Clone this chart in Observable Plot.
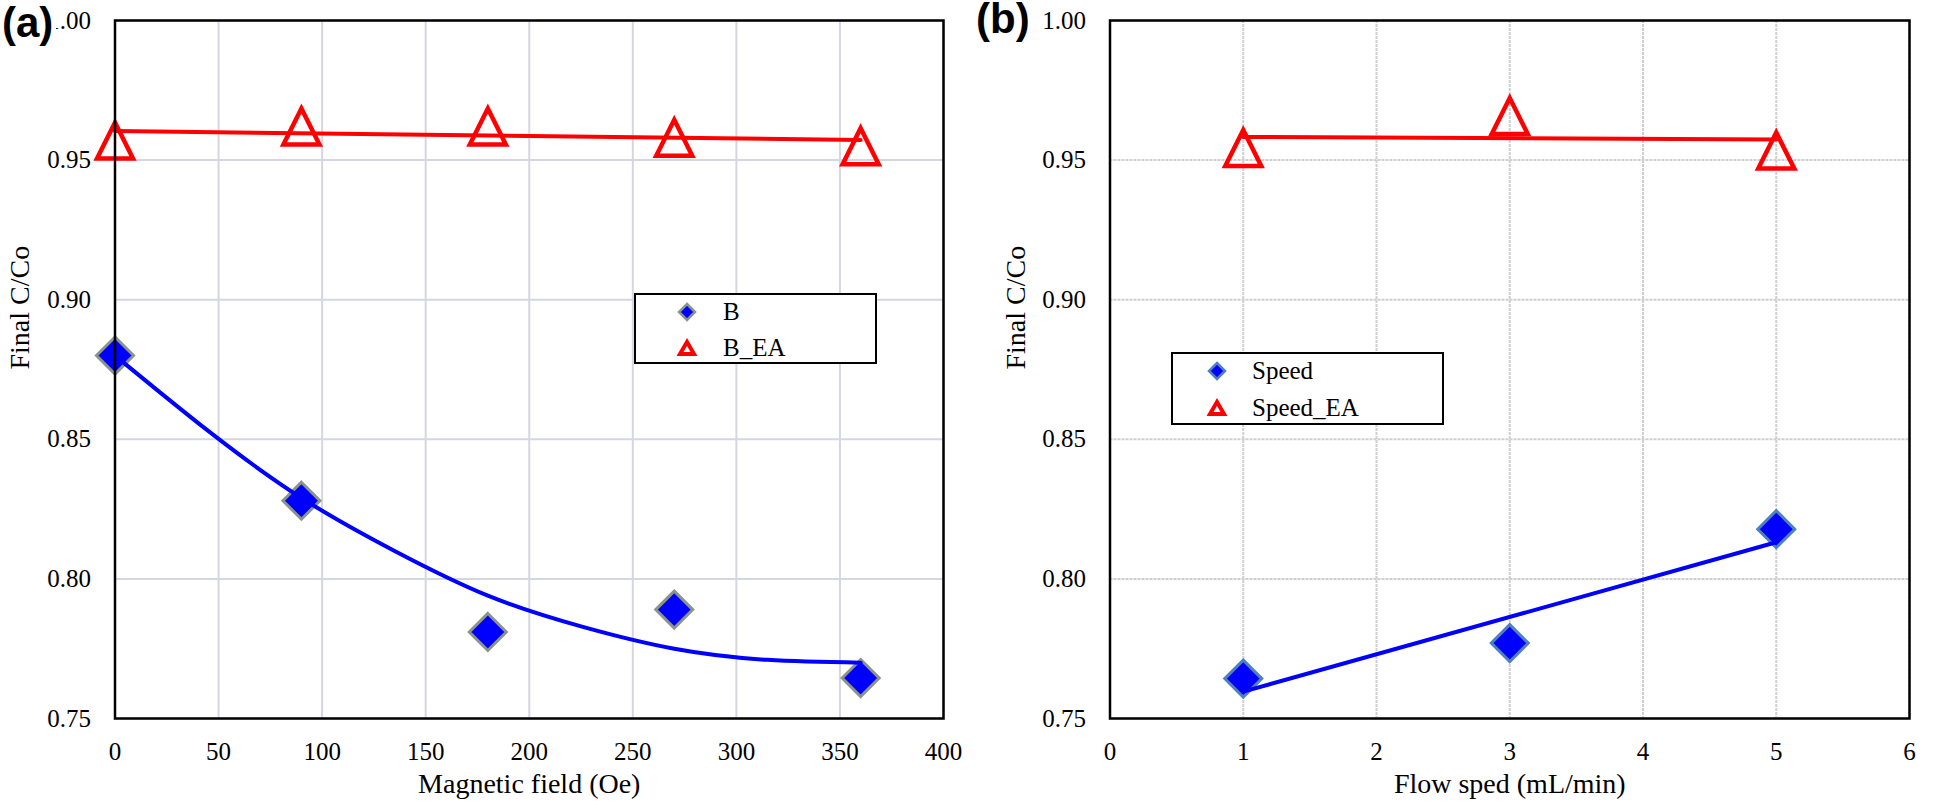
<!DOCTYPE html>
<html><head><meta charset="utf-8">
<script src="https://cdn.jsdelivr.net/npm/d3@7"></script>
<script src="https://cdn.jsdelivr.net/npm/@observablehq/plot@0.6"></script>
<style>
body{margin:0;background:#fff;}
#wrap{position:relative;width:1946px;height:809px;overflow:hidden;background:#fff;}
#pa{position:absolute;left:0;top:0;}
#pb{position:absolute;left:975px;top:0;}
#wrap svg, #wrap svg text{font-family:"Liberation Serif","Times New Roman",serif !important;}
.tag{position:absolute;font-family:"Liberation Sans",Arial,sans-serif;font-weight:bold;font-size:42px;line-height:46px;background:#fff;padding-right:3px;}
</style></head><body>
<div id="wrap"><div id="pa"></div><div id="pb"></div>
<div class="tag" style="left:2px;top:0px">(a)</div>
<div class="tag" style="left:976px;top:-4px">(b)</div></div>
<script>
// ---- data ----
const fieldOe = [0, 90, 180, 270, 360];
const seriesB = [0.880, 0.828, 0.781, 0.789, 0.7645];
const seriesB_EA = [0.957, 0.962, 0.962, 0.958, 0.955];
const trendFieldOe = [0, 45, 90, 135, 180, 225, 270, 315, 360];
const trendB = [0.880, 0.853, 0.829, 0.810, 0.794, 0.783, 0.775, 0.771, 0.770];
const flowSpeed = [1, 3, 5];
const seriesSpeed = [0.7643, 0.777, 0.8178];
const seriesSpeed_EA = [0.9543, 0.9658, 0.9534];
const xTicksA = [0, 50, 100, 150, 200, 250, 300, 350, 400];
const xTicksB = [0, 1, 2, 3, 4, 5, 6];
const yTicks = [0.75, 0.80, 0.85, 0.90, 0.95, 1.00];
const legendA = ["B", "B_EA"];
const legendB = ["Speed", "Speed_EA"];

const rowsA = fieldOe.map((x, i) => ({x, b: seriesB[i], bea: seriesB_EA[i]}));
const trendRowsA = trendFieldOe.map((x, i) => ({x, y: trendB[i]}));
const rowsB = flowSpeed.map((x, i) => ({x, s: seriesSpeed[i], sea: seriesSpeed_EA[i]}));

const symTri = {draw(ctx, size){const r = Math.sqrt(size/Math.PI); ctx.moveTo(0,-r); ctx.lineTo(r,r); ctx.lineTo(-r,r); ctx.closePath();}};
const symDia = {draw(ctx, size){const r = Math.sqrt(size/Math.PI); ctx.moveTo(0,-r); ctx.lineTo(r,0); ctx.lineTo(0,r); ctx.lineTo(-r,0); ctx.closePath();}};

const serif = '"Liberation Serif","Times New Roman",serif';
const baseStyle = {fontFamily: serif, fontSize: "25px", color: "#000", background: "transparent", overflow: "visible"};
const fmtY = d3.format(".2f");

const plotA = Plot.plot({
  width: 975, height: 809,
  marginLeft: 114.5, marginRight: 32, marginTop: 20, marginBottom: 91,
  style: baseStyle,
  x: {domain: [0, 400]},
  y: {domain: [0.75, 1.0]},
  marks: [
    Plot.gridX(xTicksA, {stroke: "#d6d6e2", strokeOpacity: 1, strokeWidth: 2}),
    Plot.gridY(yTicks, {stroke: "#d6d6e2", strokeOpacity: 1, strokeWidth: 2}),
    Plot.axisX(xTicksA, {tickSize: 0, tickPadding: 24, label: null, fontFamily: serif, fontSize: 25, tickFormat: d => String(d)}),
    Plot.axisY(yTicks, {tickSize: 0, tickPadding: 24, label: null, fontFamily: serif, fontSize: 25, tickFormat: fmtY}),
    Plot.dot(rowsA, {x: "x", y: "b", symbol: symDia, r: 18.5, fill: "#0000ff", stroke: "#8b9488", strokeWidth: 3}),
    Plot.dot(rowsA, {x: "x", y: "bea", symbol: symTri, r: 18, fill: "none", stroke: "#ff0000", strokeWidth: 4.5}),
    Plot.line(trendRowsA, {x: "x", y: "y", curve: "natural", stroke: "#0000ff", strokeWidth: 4}),
    Plot.linearRegressionY(rowsA, {x: "x", y: "bea", ci: 0, stroke: "#ff0000", strokeWidth: 4}),
    Plot.frame({stroke: "#000", strokeWidth: 2.5}),
    Plot.text(["Magnetic field (Oe)"], {frameAnchor: "bottom", dy: 74, fontSize: 28, fontFamily: serif}),
    Plot.text(["Final C/Co"], {frameAnchor: "left", rotate: -90, dx: -95, fontSize: 28, fontFamily: serif})
  ]
});

const plotB = Plot.plot({
  width: 971, height: 809,
  marginLeft: 134.5, marginRight: 37, marginTop: 20, marginBottom: 91,
  style: baseStyle,
  x: {domain: [0, 6]},
  y: {domain: [0.75, 1.0]},
  marks: [
    Plot.gridX(xTicksB, {stroke: "#cfcfcf", strokeOpacity: 1, strokeWidth: 2, strokeDasharray: "3,1"}),
    Plot.gridY(yTicks, {stroke: "#cfcfcf", strokeOpacity: 1, strokeWidth: 2, strokeDasharray: "3,1"}),
    Plot.axisX(xTicksB, {tickSize: 0, tickPadding: 24, label: null, fontFamily: serif, fontSize: 25, tickFormat: d => String(d)}),
    Plot.axisY(yTicks, {tickSize: 0, tickPadding: 24, label: null, fontFamily: serif, fontSize: 25, tickFormat: fmtY}),
    Plot.dot(rowsB, {x: "x", y: "s", symbol: symDia, r: 18.5, fill: "#0000ff", stroke: "#4f81bd", strokeWidth: 3}),
    Plot.dot(rowsB, {x: "x", y: "sea", symbol: symTri, r: 18, fill: "none", stroke: "#ff0000", strokeWidth: 4.5}),
    Plot.linearRegressionY(rowsB, {x: "x", y: "s", ci: 0, stroke: "#0000ff", strokeWidth: 4}),
    Plot.linearRegressionY(rowsB, {x: "x", y: "sea", ci: 0, stroke: "#ff0000", strokeWidth: 4}),
    Plot.frame({stroke: "#000", strokeWidth: 2.5}),
    Plot.text(["Flow sped (mL/min)"], {frameAnchor: "bottom", dy: 74, fontSize: 28, fontFamily: serif}),
    Plot.text(["Final C/Co"], {frameAnchor: "left", rotate: -90, dx: -94, fontSize: 28, fontFamily: serif})
  ]
});

document.getElementById("pa").appendChild(plotA);
document.getElementById("pb").appendChild(plotB);

function addLegend(svg, box, mx, rows, tx, labels, diaStroke) {
  const g = d3.select(svg).append("g");
  g.append("rect").attr("x", box[0]).attr("y", box[1]).attr("width", box[2]).attr("height", box[3])
    .attr("fill", "#fff").attr("stroke", "#000").attr("stroke-width", 2);
  g.append("path").attr("d", `M${mx},${rows[0]-8}L${mx+8},${rows[0]}L${mx},${rows[0]+8}L${mx-8},${rows[0]}Z`)
    .attr("fill", "#0000ff").attr("stroke", diaStroke).attr("stroke-width", 2.5);
  g.append("path").attr("d", `M${mx},${rows[1]-6}L${mx+7},${rows[1]+6}L${mx-7},${rows[1]+6}Z`)
    .attr("fill", "none").attr("stroke", "#ff0000").attr("stroke-width", 4);
  labels.forEach((t, i) => {
    g.append("text").attr("x", tx).attr("y", rows[i] + 8).attr("font-size", 25)
      .attr("text-anchor", "start").attr("font-family", serif).attr("fill", "#000").text(t);
  });
}
addLegend(plotA, [635, 294, 241, 69], 687, [312, 348], 723, legendA, "#8b9488");
addLegend(plotB, [197, 353, 271, 71], 242, [371, 408], 277, legendB, "#4f81bd");
</script></body></html>
